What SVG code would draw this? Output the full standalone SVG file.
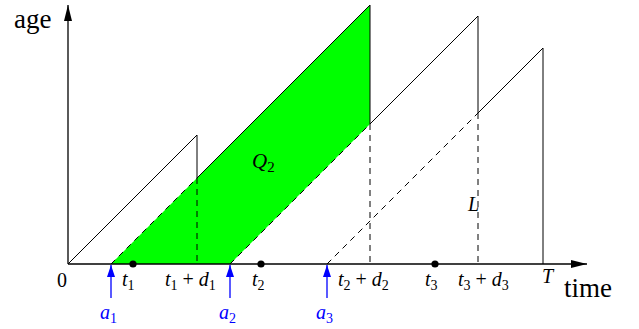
<svg xmlns="http://www.w3.org/2000/svg" width="639" height="329" viewBox="0 0 639 329">
<defs>
<marker id="ah" viewBox="0 0 16 8" refX="16" refY="4" markerWidth="16" markerHeight="8" markerUnits="userSpaceOnUse" orient="auto">
<path d="M0,0 L16,4 L0,8 Z" fill="#000"/>
</marker>
<marker id="bh" viewBox="0 0 12 8" refX="12" refY="4" markerWidth="12" markerHeight="8" markerUnits="userSpaceOnUse" orient="auto">
<path d="M0,0 L12,4 L0,8 Z" fill="#0000ff"/>
</marker>
</defs>
<style>
.ln{stroke:#000;stroke-width:1;fill:none}
.ds{stroke:#000;stroke-width:1;fill:none;stroke-dasharray:6 5}
.ax{stroke:#000;stroke-width:1.3;fill:none}
.bl{stroke:#0000ff;stroke-width:1.3;fill:none}
text{font-family:"Liberation Serif","DejaVu Serif",serif;font-size:20px;fill:#000}
.it{font-style:italic}
.sb{font-size:14px;font-style:normal}
.big{font-size:27px}
.blt{fill:#0000ff}
</style>
<g id="region-Q2">
<polygon points="111,264 230,264 370,124 370,5" fill="#00ff00"/>
</g>
<g id="connectors">
<line class="ax" x1="68" y1="264" x2="68" y2="5" marker-end="url(#ah)"/>
<line class="ax" x1="68" y1="264" x2="587" y2="264" marker-end="url(#ah)"/>
<polyline class="ln" points="68,264 197,135 197,178"/>
<line class="ds" x1="197" y1="178" x2="197" y2="264"/>
<line class="ds" x1="111" y1="264" x2="197" y2="178"/>
<polyline class="ln" points="197,178 370,5 370,124"/>
<line class="ds" x1="230" y1="264" x2="370" y2="124"/>
<line class="ds" x1="370" y1="124" x2="370" y2="264"/>
<polyline class="ln" points="370,124 478,16 478,113"/>
<line class="ds" x1="478" y1="113" x2="478" y2="264"/>
<line class="ds" x1="327" y1="264" x2="478" y2="113"/>
<polyline class="ln" points="478,113 543,48 543,264"/>
<line class="bl" x1="111" y1="298" x2="111" y2="265" marker-end="url(#bh)"/>
<line class="bl" x1="230" y1="298" x2="230" y2="265" marker-end="url(#bh)"/>
<line class="bl" x1="327" y1="298" x2="327" y2="265" marker-end="url(#bh)"/>
</g>
<g id="points">
<circle cx="133" cy="264" r="3.6"/>
<circle cx="261" cy="264" r="3.6"/>
<circle cx="435" cy="264" r="3.6"/>
</g>
<g id="labels">
<text x="14" y="28" class="big">age</text>
<text x="564" y="297" class="big">time</text>
<text x="62" y="287" text-anchor="middle">0</text>
<text x="122" y="286" class="it">t<tspan class="sb" dy="4">1</tspan></text>
<text x="165" y="286" class="it">t<tspan class="sb" dy="4">1</tspan><tspan dy="-4" style="font-style:normal"> + </tspan>d<tspan class="sb" dy="4">1</tspan></text>
<text x="252" y="286" class="it">t<tspan class="sb" dy="4">2</tspan></text>
<text x="338" y="286" class="it">t<tspan class="sb" dy="4">2</tspan><tspan dy="-4" style="font-style:normal"> + </tspan>d<tspan class="sb" dy="4">2</tspan></text>
<text x="425" y="286" class="it">t<tspan class="sb" dy="4">3</tspan></text>
<text x="458" y="286" class="it">t<tspan class="sb" dy="4">3</tspan><tspan dy="-4" style="font-style:normal"> + </tspan>d<tspan class="sb" dy="4">3</tspan></text>
<text x="542" y="283" class="it">T</text>
<text x="252" y="168" class="it" style="font-size:21px">Q<tspan class="sb" dy="4" style="font-size:15px">2</tspan></text>
<text x="468" y="211" class="it">L</text>
<text x="100" y="319" class="it blt">a<tspan class="sb" dy="4">1</tspan></text>
<text x="219" y="319" class="it blt">a<tspan class="sb" dy="4">2</tspan></text>
<text x="316" y="319" class="it blt">a<tspan class="sb" dy="4">3</tspan></text>
</g>
</svg>
